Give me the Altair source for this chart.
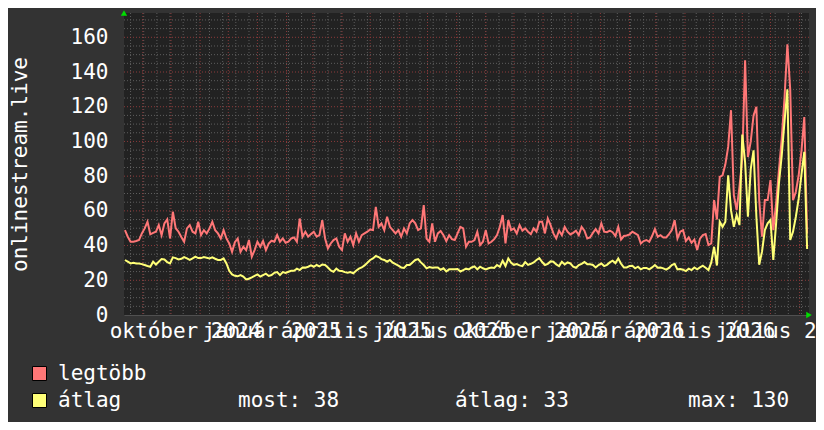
import altair as alt
import pandas as pd

# ---- data (one value every 3 days) ----
series_start = "2024-08-13"
step_days = 3

legtobb = [
    48.9, 45.1, 42.2, 42.2, 42.6, 43.2, 47.0, 49.9, 53.7, 46.5,
    47.3, 48.0, 51.8, 46.0, 52.8, 55.1, 44.1, 59.5, 50.0, 48.0,
    45.0, 42.2, 49.9, 51.8, 48.0, 47.0, 53.7, 46.0, 48.9, 47.0,
    49.9, 53.7, 48.9, 47.0, 44.1, 48.9, 44.1, 41.2, 36.4, 42.0,
    44.1, 36.4, 39.3, 37.4, 43.2, 33.6, 37.4, 42.2, 39.3, 42.6,
    37.4, 41.2, 42.8, 42.2, 46.0, 42.2, 44.1, 41.6, 42.2, 44.1,
    44.7, 42.2, 55.6, 45.1, 48.0, 45.1, 46.6, 48.0, 45.1, 46.0,
    54.7, 44.1, 38.4, 41.2, 43.2, 44.1, 39.3, 37.4, 47.0, 42.2,
    45.1, 40.3, 47.0, 42.2, 46.0, 47.0, 48.0, 49.3, 48.9, 62.3,
    50.8, 52.8, 48.9, 56.6, 50.8, 48.9, 47.0, 48.9, 45.1, 49.9,
    47.0, 52.8, 54.7, 52.8, 48.9,
    49.9, 63.3, 44.0, 42.2, 52.8, 42.2, 47.0, 48.4, 46.0, 42.6,
    46.0, 43.7, 43.2, 47.0, 50.8, 49.9, 39.3, 42.2, 42.2, 43.2,
    48.0, 40.3, 42.2, 48.9, 41.2, 42.2, 43.7, 46.0, 50.8, 57.6,
    41.2, 54.7, 48.9, 49.9, 47.0, 51.8, 48.6, 49.9, 48.0, 46.6,
    49.9, 48.0, 53.7, 53.7, 47.0, 55.6, 51.8, 47.0, 44.1, 48.6,
    46.0, 50.8, 48.0, 46.4, 47.3, 48.6, 46.0, 50.8, 48.6, 44.1,
    44.7, 47.3, 49.5, 47.0, 52.8, 48.0, 47.7, 48.6, 47.7, 45.5,
    50.8, 43.5, 45.5, 45.8, 46.4, 48.0, 47.0, 46.0, 41.2, 42.6,
    43.2, 42.2, 45.5, 49.5, 45.1, 46.0, 44.7, 44.7, 46.6, 48.9,
    54.7, 44.1, 48.0, 48.9, 42.6, 44.7, 41.6, 43.5, 37.4, 44.0,
    46.0, 46.6, 40.3,
    41.2, 66.2, 55.0, 79.6, 80.5, 86.8, 97.0, 118.0, 69.0, 60.4,
    73.9, 90.0, 146.8, 91.0, 100.0, 115.0, 120.0, 66.2, 45.1, 66.2,
    66.2, 77.7, 48.9, 64.3, 83.5, 101.8, 125.6, 156.0, 130.0, 66.2,
    71.0, 80.5, 94.6, 114.0, 47.0,
]

atlag = [
    31.7, 30.7, 29.7, 30.1, 29.7, 29.7, 29.3, 28.8, 28.2, 27.8,
    30.7, 29.1, 30.7, 32.2, 32.0, 30.5, 29.7, 33.2, 32.8, 32.0,
    32.4, 33.4, 32.6, 31.7, 32.6, 33.6, 32.8, 32.8, 33.4, 33.0,
    32.6, 33.2, 32.4, 31.7, 31.7, 32.6, 29.7, 25.5, 23.4, 22.6,
    22.3, 23.0, 22.1, 20.5, 20.9, 21.7, 22.6, 23.4, 22.1, 23.0,
    23.8, 22.5, 23.0, 24.3, 24.7, 23.0, 24.7, 24.2, 24.9, 25.5,
    25.5, 26.7, 25.9, 27.4, 27.3, 27.8, 28.6, 27.8, 28.8, 28.0,
    29.1, 28.8, 27.4, 25.7, 24.9, 26.7, 25.5, 25.3, 24.7, 24.3,
    24.7, 24.0, 25.5, 26.7, 27.4, 28.6, 30.1, 31.7, 32.6, 34.0,
    33.4, 32.2, 31.7, 30.7, 31.7, 30.1, 29.3, 28.4, 27.4, 27.1,
    28.8, 28.8, 30.3, 31.7, 32.2,
    30.3, 28.8, 26.9, 27.6, 27.2, 27.4, 27.4, 26.1, 26.9, 25.1,
    26.3, 26.3, 26.3, 26.5, 25.1, 25.9, 26.7, 26.3, 27.4, 28.0,
    26.3, 27.8, 26.9, 26.3, 26.9, 27.4, 27.1, 28.8, 27.8, 31.3,
    28.2, 32.6, 30.1, 28.9, 29.3, 28.6, 28.2, 30.5, 28.9, 29.5,
    30.3, 31.7, 32.8, 30.5, 28.8, 29.5, 30.9, 30.7, 29.1, 28.2,
    30.7, 29.1, 30.3, 29.7, 27.8, 27.2, 28.8, 29.5, 30.5, 29.3,
    29.3, 28.8, 27.4, 28.8, 29.7, 28.2, 28.9, 30.3, 31.3, 29.9,
    32.6, 29.5, 27.4, 27.4, 28.2, 28.4, 26.9, 27.8, 26.3, 27.1,
    27.1, 26.3, 27.4, 28.8, 27.2, 27.4, 26.9, 26.1, 27.1, 28.8,
    29.5, 26.3, 26.5, 26.1, 25.3, 26.7, 25.9, 27.4, 26.3, 27.4,
    28.4, 27.2, 25.9,
    30.3, 39.3, 28.5, 53.7, 50.8, 53.7, 80.5, 60.4, 50.8, 57.6,
    51.8, 104.0, 88.0, 56.6, 84.0, 94.9, 56.6, 29.0, 36.5, 48.9,
    52.8, 54.7, 31.7, 52.8, 75.8, 92.0, 112.0, 130.0, 43.2, 48.0,
    56.6, 67.0, 81.0, 94.0, 38.0,
]

series_names = ["legtöbb", "átlag"]
y_axis_title = "onlinestream.live"
x_domain = ["2024-08-12", "2026-08-11"]
y_domain = [0, 174]
y_label_values = [0, 20, 40, 60, 80, 100, 120, 140, 160]
x_label_dates = ["2024-10-16", "2025-01-16", "2025-04-16", "2025-07-16",
                 "2025-10-16", "2026-01-16", "2026-04-16", "2026-07-16"]
hu_months = ["január", "február", "március", "április", "május", "június",
             "július", "augusztus", "szeptember", "október", "november", "december"]
month_grid_range = ["2024-09-01", "2026-08-01"]
minor_grid_start = "2024-08-19"
y_minor_grid = [v for v in range(5, 171, 5) if v % 20]
y_major_grid = [20, 40, 60, 80, 100, 120, 140, 160]

# ---- styling ----
FONT = "DejaVu Sans Mono"
FS = 21
RED = "#ff7777"
YELLOW = "#ffff77"
TXT = "#ffffff"
MINOR = "#5e5e5e"
MAJOR = "#8c3a3a"

# ---- frames ----
dates = pd.date_range(series_start, periods=len(legtobb), freq=f"{step_days}D")
df = pd.DataFrame({"t": dates, "legtobb": legtobb, "atlag": atlag})
df_month = pd.DataFrame({"t": pd.date_range(month_grid_range[0], month_grid_range[1], freq="MS")})
df_biweek = pd.DataFrame({"t": pd.date_range(minor_grid_start, x_domain[1], freq="14D")})
df_yminor = pd.DataFrame({"v": y_minor_grid})
df_ymajor = pd.DataFrame({"v": y_major_grid})


def dt(s):
    d = pd.Timestamp(s)
    return alt.DateTime(year=d.year, month=d.month, date=d.day)


xscale = alt.Scale(domain=[dt(x_domain[0]), dt(x_domain[1])])
yscale = alt.Scale(domain=y_domain, nice=False, zero=True)

month_arr = "[" + ",".join(f"'{m}'" for m in hu_months) + "]"
label_expr = month_arr + "[month(datum.value)] + ' ' + year(datum.value)"

xaxis = alt.Axis(values=[dt(s) for s in x_label_dates], labelExpr=label_expr,
                 labelFlush=False, labelOverlap=False, labelBound=False,
                 ticks=False, grid=False, domain=True, domainColor="#505050",
                 labelPadding=5, labelFont=FONT, labelFontSize=FS, labelColor=TXT,
                 labelAngle=0, title=None)
yaxis = alt.Axis(values=y_label_values, ticks=False, grid=False, domain=False,
                 labelPadding=16, labelFont=FONT, labelFontSize=FS, labelColor=TXT,
                 title=y_axis_title, titleFont=FONT, titleFontSize=FS,
                 titleFontWeight="normal", titleColor=TXT, titleAngle=270,
                 titleX=-104, titleY=151, titleAlign="center", titleBaseline="middle")


def X(field):
    return alt.X(f"{field}:T", scale=xscale, axis=xaxis, title=None)


def Y(field):
    return alt.Y(f"{field}:Q", scale=yscale, axis=yaxis, title=y_axis_title)


g_xminor = alt.Chart(df_biweek).mark_rule(color=MINOR, strokeDash=[1, 2], strokeWidth=1).encode(x=X("t"))
g_yminor = alt.Chart(df_yminor).mark_rule(color=MINOR, strokeDash=[1, 2], strokeWidth=1).encode(y=Y("v"))
g_xmajor = alt.Chart(df_month).mark_rule(color=MAJOR, strokeDash=[1, 2], strokeWidth=1).encode(x=X("t"))
g_ymajor = alt.Chart(df_ymajor).mark_rule(color=MAJOR, strokeDash=[1, 2], strokeWidth=1).encode(y=Y("v"))

line_red = alt.Chart(df).mark_line(color=RED, strokeWidth=2).encode(x=X("t"), y=Y("legtobb"))
line_yel = alt.Chart(df).mark_line(color=YELLOW, strokeWidth=2).encode(x=X("t"), y=Y("atlag"))

df_arrow_up = pd.DataFrame({"t": [pd.Timestamp(x_domain[0])], "v": [y_domain[1]]})
df_arrow_right = pd.DataFrame({"t": [pd.Timestamp(x_domain[1])], "v": [y_domain[0]]})
arrow_up = alt.Chart(df_arrow_up).mark_point(shape="triangle-up", filled=True, color="#00dd00",
                                             size=40, opacity=1, dy=-3).encode(x=X("t"), y=Y("v"))
arrow_right = alt.Chart(df_arrow_right).mark_point(shape="triangle-right", filled=True, color="#00dd00",
                                                   size=40, opacity=1, dx=4).encode(x=X("t"), y=Y("v"))

# ---- legend ----
last_v = atlag[-1]
mean_v = sum(atlag) / len(atlag)
max_v = max(atlag)
stat_texts = [f"most: {last_v:.0f}", f"átlag: {mean_v:.0f}", f"max: {max_v:.0f}"]
dummy = pd.DataFrame({"a": [0]})

row_y = [360.5, 387.5]
legend_layers = []
for name, col, yy in zip(series_names, [RED, YELLOW], row_y):
    legend_layers.append(
        alt.Chart(dummy).mark_square(filled=True, fill=col, stroke="#000000", strokeWidth=1,
                                     size=196, opacity=1).encode(x=alt.value(-84.5), y=alt.value(yy))
    )
    legend_layers.append(
        alt.Chart(dummy).mark_text(text=name, align="left", baseline="middle", font=FONT,
                                   fontSize=FS, color=TXT).encode(x=alt.value(-66), y=alt.value(yy + 0.5))
    )
for txt, xx in zip(stat_texts, [114, 331, 564]):
    legend_layers.append(
        alt.Chart(dummy).mark_text(text=txt, align="left", baseline="middle", font=FONT,
                                   fontSize=FS, color=TXT).encode(x=alt.value(xx), y=alt.value(row_y[1] + 0.5))
    )

chart = alt.layer(
    g_xminor, g_yminor, g_xmajor, g_ymajor, line_red, line_yel, arrow_up, arrow_right, *legend_layers
).properties(
    width=685, height=302, background="#333333",
    padding={"left": 116, "top": 5, "right": 7, "bottom": 107},
    autosize=alt.AutoSizeParams(type="none"),
).configure(font=FONT).configure_view(fill="#222222", stroke=None)

chart.save("out.html", embed_options={"renderer": "svg", "actions": False})
